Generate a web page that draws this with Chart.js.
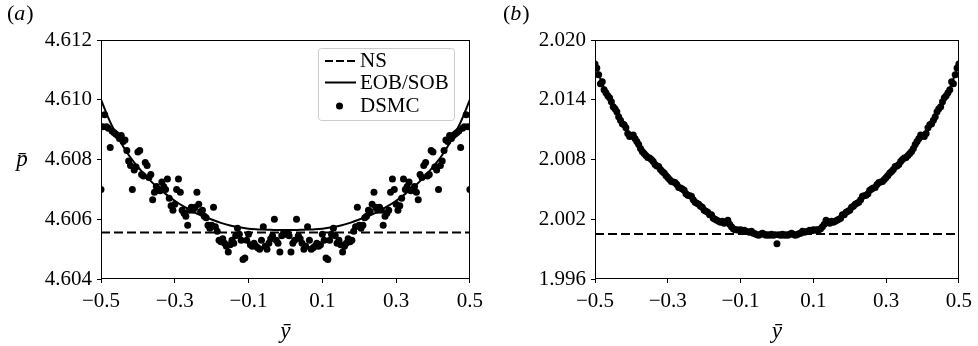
<!DOCTYPE html>
<html>
<head>
<meta charset="utf-8">
<script src="https://cdn.jsdelivr.net/npm/chart.js@4.4.1/dist/chart.umd.min.js"></script>
<style>
  html, body { margin: 0; padding: 0; background: #fff; }
  #wrap { position: relative; width: 978px; height: 346px; }
  canvas { position: absolute; top: 0; }
  #chartA { left: 0; }
  #chartB { left: 489px; }
</style>
</head>
<body>
<div id="wrap">
  <canvas id="chartA" width="489" height="346"></canvas>
  <canvas id="chartB" width="489" height="346"></canvas>
</div>
<script>
// tick labels
var xTicks = [-0.5, -0.3, -0.1, 0.1, 0.3, 0.5];
var yTicksA = [4.604, 4.606, 4.608, 4.610, 4.612];
var yTicksB = [1.996, 2.002, 2.008, 2.014, 2.020];

// NS level (flat)
var nsA = 4.60556;
var nsB = 2.00051;

// EOB/SOB curves, y = -0.5 .. 0.5 every 0.025
var eobA = [
  4.61000, 4.60925, 4.60865, 4.60815, 4.60775, 4.60740, 4.60710, 4.60685, 4.60662, 4.60642,
  4.60625, 4.60611, 4.60599, 4.60588, 4.60579, 4.60573, 4.60568, 4.60566, 4.60565, 4.60564,
  4.60564,
  4.60564, 4.60565, 4.60566, 4.60568, 4.60573, 4.60579, 4.60588, 4.60599, 4.60611, 4.60625,
  4.60642, 4.60662, 4.60685, 4.60710, 4.60740, 4.60775, 4.60815, 4.60865, 4.60925, 4.61000
];
var eobB = [
  2.01750, 2.01520, 2.01340, 2.01170, 2.01020, 2.00905, 2.00810, 2.00720, 2.00630, 2.00545,
  2.00465, 2.00380, 2.00300, 2.00220, 2.00165, 2.00120, 2.00090, 2.00070, 2.00058, 2.00052,
  2.00050,
  2.00052, 2.00058, 2.00070, 2.00090, 2.00120, 2.00165, 2.00220, 2.00300, 2.00380, 2.00465,
  2.00545, 2.00630, 2.00720, 2.00810, 2.00905, 2.01020, 2.01170, 2.01340, 2.01520, 2.01750
];

// DSMC cells, y = -0.5 .. 0.5 every 0.005
var dsmcA = [
  4.60700, 4.60910, 4.60950, 4.60910, 4.60905, 4.60840, 4.60895, 4.60890, 4.60885, 4.60880,
  4.60870, 4.60880, 4.60860, 4.60865, 4.60830, 4.60795, 4.60780, 4.60700, 4.60765, 4.60775,
  4.60825, 4.60830, 4.60750, 4.60745, 4.60790, 4.60780, 4.60740, 4.60750, 4.60665, 4.60690,
  4.60710, 4.60700, 4.60695, 4.60725, 4.60710, 4.60700, 4.60735, 4.60670, 4.60645, 4.60630,
  4.60650, 4.60700, 4.60735, 4.60690, 4.60630, 4.60620, 4.60610, 4.60580, 4.60630, 4.60640,
  4.60630, 4.60640, 4.60690, 4.60650, 4.60625, 4.60630, 4.60610, 4.60605, 4.60580, 4.60570,
  4.60580, 4.60640, 4.60575, 4.60560, 4.60530, 4.60525, 4.60535, 4.60520, 4.60510, 4.60490,
  4.60515, 4.60530, 4.60520, 4.60545, 4.60570, 4.60550, 4.60530, 4.60465, 4.60470, 4.60530,
  4.60550, 4.60515, 4.60510, 4.60520, 4.60510, 4.60505, 4.60500, 4.60530, 4.60575, 4.60510,
  4.60500, 4.60520, 4.60535, 4.60545, 4.60600, 4.60530, 4.60520, 4.60490, 4.60545, 4.60555,
  4.60550,
  4.60555, 4.60545, 4.60490, 4.60520, 4.60530, 4.60600, 4.60545, 4.60535, 4.60520, 4.60500,
  4.60510, 4.60575, 4.60530, 4.60500, 4.60505, 4.60510, 4.60520, 4.60510, 4.60515, 4.60550,
  4.60530, 4.60470, 4.60465, 4.60530, 4.60550, 4.60570, 4.60545, 4.60520, 4.60530, 4.60515,
  4.60490, 4.60510, 4.60520, 4.60535, 4.60525, 4.60530, 4.60560, 4.60575, 4.60640, 4.60580,
  4.60570, 4.60580, 4.60605, 4.60610, 4.60630, 4.60625, 4.60650, 4.60690, 4.60640, 4.60630,
  4.60640, 4.60630, 4.60580, 4.60610, 4.60620, 4.60630, 4.60690, 4.60735, 4.60700, 4.60650,
  4.60630, 4.60645, 4.60670, 4.60735, 4.60700, 4.60710, 4.60725, 4.60695, 4.60700, 4.60710,
  4.60690, 4.60665, 4.60750, 4.60740, 4.60780, 4.60790, 4.60745, 4.60750, 4.60830, 4.60825,
  4.60775, 4.60765, 4.60700, 4.60780, 4.60795, 4.60830, 4.60865, 4.60860, 4.60880, 4.60870,
  4.60880, 4.60885, 4.60890, 4.60895, 4.60840, 4.60905, 4.60910, 4.60950, 4.60910, 4.60700
];
var dsmcB = [
  2.01760, 2.01720, 2.01650, 2.01560, 2.01580, 2.01500, 2.01470, 2.01440, 2.01420, 2.01380,
  2.01330, 2.01310, 2.01280, 2.01230, 2.01195, 2.01160, 2.01150, 2.01120, 2.01060, 2.01030,
  2.01040, 2.01045, 2.01010, 2.00980, 2.00950, 2.00910, 2.00880, 2.00860, 2.00840, 2.00820,
  2.00815, 2.00800, 2.00780, 2.00750, 2.00735, 2.00730, 2.00700, 2.00680, 2.00665, 2.00640,
  2.00620, 2.00600, 2.00580, 2.00575, 2.00570, 2.00550, 2.00520, 2.00515, 2.00505, 2.00490,
  2.00455, 2.00440, 2.00435, 2.00430, 2.00395, 2.00370, 2.00360, 2.00350, 2.00330, 2.00320,
  2.00290, 2.00280, 2.00270, 2.00245, 2.00245, 2.00210, 2.00200, 2.00190, 2.00180, 2.00170,
  2.00180, 2.00160, 2.00175, 2.00190, 2.00150, 2.00125, 2.00105, 2.00095, 2.00095, 2.00090,
  2.00095, 2.00085, 2.00090, 2.00080, 2.00075, 2.00070, 2.00080, 2.00060, 2.00055, 2.00045,
  2.00040, 2.00050, 2.00060, 2.00050, 2.00040, 2.00045, 2.00040, 2.00050, 2.00040, 2.00045,
  1.99955,
  2.00045, 2.00040, 2.00050, 2.00040, 2.00045, 2.00040, 2.00050, 2.00060, 2.00050, 2.00040,
  2.00045, 2.00055, 2.00060, 2.00080, 2.00070, 2.00075, 2.00080, 2.00090, 2.00085, 2.00095,
  2.00090, 2.00095, 2.00095, 2.00105, 2.00125, 2.00150, 2.00190, 2.00175, 2.00160, 2.00180,
  2.00170, 2.00180, 2.00190, 2.00200, 2.00210, 2.00245, 2.00245, 2.00270, 2.00280, 2.00290,
  2.00320, 2.00330, 2.00350, 2.00360, 2.00370, 2.00395, 2.00430, 2.00435, 2.00440, 2.00455,
  2.00490, 2.00505, 2.00515, 2.00520, 2.00550, 2.00570, 2.00575, 2.00580, 2.00600, 2.00620,
  2.00640, 2.00665, 2.00680, 2.00700, 2.00730, 2.00735, 2.00750, 2.00780, 2.00800, 2.00815,
  2.00820, 2.00840, 2.00860, 2.00880, 2.00910, 2.00950, 2.00980, 2.01010, 2.01045, 2.01040,
  2.01030, 2.01060, 2.01120, 2.01150, 2.01160, 2.01195, 2.01230, 2.01280, 2.01310, 2.01330,
  2.01380, 2.01420, 2.01440, 2.01470, 2.01500, 2.01580, 2.01560, 2.01650, 2.01720, 2.01760
];

var SERIF = "'Liberation Serif', 'Times New Roman', serif";
Chart.defaults.font.family = SERIF;
Chart.defaults.font.size = 21;
Chart.defaults.color = '#000';

// evenly spaced positions across the channel
function channel(n) {
  var out = [];
  for (var i = 0; i < n; i++) out.push(-0.5 + i / (n - 1));
  return out;
}
function toPoints(vals) {
  var xs = channel(vals.length);
  return vals.map(function(v, i) { return {x: xs[i], y: v}; });
}
function fmtX(v) {
  return v < 0 ? '\u2212' + Math.abs(v).toFixed(1) : v.toFixed(1);
}

// frame, panel tag, axis symbols and the legend box
var panelDecor = {
  id: 'panelDecor',
  afterDraw: function(chart, args, opts) {
    var ctx = chart.ctx, a = chart.chartArea;
    ctx.save();
    ctx.strokeStyle = '#000';
    ctx.lineWidth = 1;
    ctx.strokeRect(Math.round(a.left) + 0.5, Math.round(a.top) + 0.5,
      Math.round(a.right - a.left) - 1, Math.round(a.bottom - a.top) - 1);

    ctx.fillStyle = '#000';
    ctx.textBaseline = 'alphabetic';
    ctx.textAlign = 'left';
    // (a) / (b)
    var x = opts.tagX;
    ctx.font = '22px ' + SERIF;
    ctx.fillText('(', x, 20);
    x += ctx.measureText('(').width;
    ctx.font = 'italic 22px ' + SERIF;
    ctx.fillText(opts.tag, x, 20);
    x += ctx.measureText(opts.tag).width + 1;
    ctx.font = '22px ' + SERIF;
    ctx.fillText(')', x, 20);

    // y-bar under the axis
    ctx.font = 'italic 23px ' + SERIF;
    ctx.textAlign = 'center';
    ctx.fillText('y\u0304', (a.left + a.right) / 2, 338);

    if (opts.yLabel) {
      ctx.fillText('p\u0304', 22, 166);
    }

    if (opts.legend) {
      var bx = 318.5, by = 48.5, bw = 136, bh = 72;
      ctx.beginPath();
      ctx.roundRect(bx, by, bw, bh, 3);
      ctx.fillStyle = 'rgba(255,255,255,0.8)';
      ctx.fill();
      ctx.strokeStyle = '#cccccc';
      ctx.stroke();

      ctx.strokeStyle = '#000';
      ctx.fillStyle = '#000';
      ctx.lineWidth = 2;
      ctx.setLineDash([8, 3]);
      ctx.beginPath(); ctx.moveTo(325, 61); ctx.lineTo(356, 61); ctx.stroke();
      ctx.setLineDash([]);
      ctx.beginPath(); ctx.moveTo(325, 82.5); ctx.lineTo(356, 82.5); ctx.stroke();
      ctx.beginPath(); ctx.arc(339.5, 106, 3.5, 0, Math.PI * 2); ctx.fill();

      ctx.font = '21px ' + SERIF;
      ctx.textAlign = 'left';
      ctx.textBaseline = 'middle';
      ctx.fillText('NS', 360, 61);
      ctx.fillText('EOB/SOB', 360, 83);
      ctx.fillText('DSMC', 360, 106);
    }
    ctx.restore();
  }
};

function makePanel(id, dsmc, eob, ns, yTicks, yWidth, rightPad, deco) {
  var canvas = document.getElementById(id).getContext('2d');
  return new Chart(canvas, {
    type: 'scatter',
    data: {
      datasets: [{
        label: 'DSMC',
        data: toPoints(dsmc),
        showLine: false,
        pointRadius: 3.5,
        pointBackgroundColor: '#000',
        pointBorderColor: '#000',
        pointBorderWidth: 0,
        clip: 0
      }, {
        label: 'EOB/SOB',
        data: toPoints(eob),
        showLine: true,
        borderColor: '#000',
        borderWidth: 2,
        pointRadius: 0,
        cubicInterpolationMode: 'monotone',
        clip: 0
      }, {
        label: 'NS',
        data: [{x: -0.5, y: ns}, {x: 0.5, y: ns}],
        showLine: true,
        borderColor: '#000',
        borderWidth: 2,
        borderDash: [9, 4],
        pointRadius: 0,
        clip: 0
      }]
    },
    options: {
      responsive: false,
      animation: false,
      devicePixelRatio: 1,
      events: [],
      layout: { padding: { left: 0, top: 40, right: rightPad, bottom: 0 } },
      plugins: {
        legend: { display: false },
        tooltip: { enabled: false },
        panelDecor: deco
      },
      scales: {
        x: {
          type: 'linear',
          min: -0.5,
          max: 0.5,
          afterBuildTicks: function(s) { s.ticks = xTicks.map(function(v) { return {value: v}; }); },
          afterFit: function(s) { s.height = 67; },
          border: { display: false },
          grid: { drawOnChartArea: false, drawTicks: true, tickLength: 4, tickColor: '#000', tickWidth: 1 },
          ticks: { autoSkip: false, maxRotation: 0, padding: 6, color: '#000', callback: fmtX }
        },
        y: {
          type: 'linear',
          min: yTicks[0],
          max: yTicks[yTicks.length - 1],
          afterBuildTicks: function(s) { s.ticks = yTicks.map(function(v) { return {value: v}; }); },
          afterFit: function(s) { s.width = yWidth; },
          border: { display: false },
          grid: { drawOnChartArea: false, drawTicks: true, tickLength: 4, tickColor: '#000', tickWidth: 1 },
          ticks: { autoSkip: false, padding: 5, color: '#000', callback: function(v) { return v.toFixed(3); } }
        }
      }
    },
    plugins: [panelDecor]
  });
}

makePanel('chartA', dsmcA, eobA, nsA, yTicksA, 101, 19, { tag: 'a', tagX: 7, yLabel: true, legend: true });
makePanel('chartB', dsmcB, eobB, nsB, yTicksB, 106, 15, { tag: 'b', tagX: 14, yLabel: false, legend: false });
</script>
</body>
</html>
